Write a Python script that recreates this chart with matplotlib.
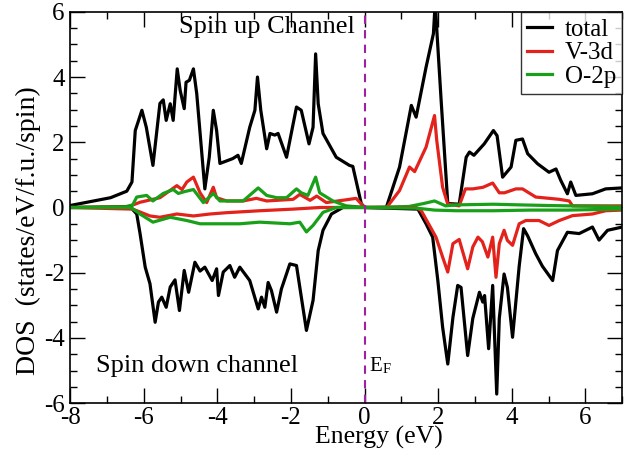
import matplotlib
matplotlib.use("Agg")
import matplotlib.pyplot as plt
from matplotlib.ticker import MultipleLocator

plt.rcParams['font.family'] = ['Liberation Serif', 'DejaVu Serif']
plt.rcParams['axes.unicode_minus'] = False
plt.rcParams['mathtext.fontset'] = 'stix'

# spin up, total
tot_up_x = [-8.0, -6.9, -6.46, -6.32, -6.23, -6.05, -5.93, -5.75, -5.56, -5.47, -5.39, -5.28, -5.2,
            -5.09, -5.01, -4.9, -4.85, -4.76, -4.65, -4.56, -4.34, -4.22, -4.11, -4.02, -3.93,
            -3.58, -3.44, -3.35, -3.12, -2.98, -2.91, -2.82, -2.66, -2.57, -2.44, -2.35, -2.12,
            -1.85, -1.72, -1.51, -1.4, -1.33, -1.26, -1.13, -0.77, -0.41, -0.32, -0.09, 0.0,
            0.59, 0.95, 1.27, 1.4, 1.67, 1.87, 1.92, 1.97, 2.08, 2.26, 2.57, 2.76, 2.85, 2.97,
            3.25, 3.5, 3.6, 3.75, 3.98, 4.11, 4.29, 4.43, 4.7, 5.01, 5.2, 5.33, 5.51, 5.6, 5.74,
            6.19, 6.55, 7.0]
tot_up_y = [0.06, 0.3, 0.5, 0.78, 2.36, 2.98, 2.46, 1.29, 3.19, 3.3, 2.67, 3.18, 2.67,
            4.25, 3.59, 3.03, 3.84, 3.9, 4.25, 3.49, 0.57, 1.54, 2.98, 2.36, 1.35,
            1.5, 1.6, 1.35, 2.46, 2.98, 4.0, 2.98, 1.8, 2.27, 2.22, 2.27, 1.54,
            3.08, 2.98, 1.95, 2.46, 4.71, 3.18, 2.27, 1.54, 1.29, 1.26, 0.12, 0.0,
            0.0, 1.24, 3.13, 2.77, 4.3, 5.33, 6.3, 5.3, 3.28, 0.12, 0.1, 1.54, 1.7, 1.6,
            1.95, 2.36, 2.2, 0.93, 1.24, 2.06, 2.1, 1.65, 1.34, 1.08, 1.18, 0.83, 0.42, 0.78, 0.37,
            0.42, 0.57, 0.6]

# spin up, V-3d
v_up_x = [-8.0, -6.4, -6.1, -5.56, -5.1, -4.96, -4.83, -4.65, -4.47, -4.29, -4.11, -4.02, -3.75,
          -3.3, -2.94, -2.66, -1.94, -1.76, -1.48, -1.3, -1.04, -0.41, -0.23, 0.0,
          0.6, 0.95, 1.22, 1.36, 1.67, 1.9, 1.96, 2.12, 2.26, 2.57, 2.74, 2.94, 3.22, 3.48,
          3.66, 3.8, 4.11, 4.29, 4.65, 5.29, 5.56, 5.65, 7.0]
v_up_y = [0.0, 0.03, 0.16, 0.3, 0.67, 0.55, 0.78, 0.93, 0.45, 0.15, 0.62, 0.3, 0.2,
          0.2, 0.28, 0.2, 0.25, 0.4, 0.22, 0.35, 0.15, 0.25, 0.28, 0.0,
          0.0, 0.52, 1.24, 1.1, 1.85, 2.82, 2.06, 0.62, 0.1, 0.05, 0.57, 0.57, 0.62, 0.75,
          0.45, 0.45, 0.57, 0.57, 0.32, 0.25, 0.2, 0.05, 0.05]

# spin up, O-2p
o_up_x = [-8.0, -6.5, -6.3, -6.19, -5.92, -5.75, -5.47, -5.2, -5.06, -4.88, -4.65, -4.38, -4.11,
          -3.93, -3.3, -2.89, -2.66, -2.39, -2.12, -1.85, -1.72, -1.54, -1.33, -1.22, -0.86,
          -0.5, 0.0, 1.2, 1.6, 1.9, 2.2, 2.5, 3.5, 4.2, 5.0, 7.0]
o_up_y = [0.0, 0.02, 0.08, 0.32, 0.37, 0.2, 0.43, 0.55, 0.43, 0.49, 0.55, 0.15, 0.43,
          0.2, 0.2, 0.6, 0.37, 0.3, 0.3, 0.57, 0.45, 0.37, 0.93, 0.45, 0.2,
          0.05, 0.0, 0.03, 0.12, 0.2, 0.05, 0.08, 0.1, 0.08, 0.06, 0.02]

# spin down, total
tot_dn_x = [-8.0, -6.35, -6.19, -6.1, -5.96, -5.83, -5.69, -5.6, -5.51, -5.39, -5.28, -5.15, -5.03,
            -4.9, -4.78, -4.61, -4.47, -4.34, -4.14, -4.02, -3.97, -3.84, -3.66, -3.53, -3.39,
            -3.12, -2.89, -2.8, -2.71, -2.62, -2.53, -2.39, -2.26, -2.03, -1.85, -1.58, -1.4,
            -1.26, -1.13, -0.9, -0.59, 0.0, 1.45, 1.67, 1.85, 1.99, 2.12, 2.26, 2.4, 2.53, 2.62,
            2.8, 2.94, 3.12, 3.21, 3.26, 3.37, 3.48, 3.59, 3.66, 3.79, 3.88, 4.02, 4.2, 4.32,
            4.43, 4.65, 4.83, 5.11, 5.24, 5.51, 5.83, 6.19, 6.37, 6.6, 7.0]
tot_dn_y = [0.0, 0.0, -0.2, -0.8, -1.83, -2.34, -3.52, -2.9, -2.75, -3.06, -2.44, -2.22, -3.16,
            -1.93, -2.6, -1.68, -1.95, -1.83, -2.24, -1.88, -2.7, -1.98, -1.78, -2.14, -1.83,
            -2.24, -3.11, -2.75, -3.06, -2.3, -2.55, -3.21, -2.5, -1.73, -1.78, -3.77, -2.85,
            -1.32, -0.7, -0.2, 0.0, 0.0, -0.05, -0.5, -0.91, -2.24, -3.67, -4.8, -3.37, -2.39, -2.45,
            -4.54, -3.4, -2.6, -2.9, -2.7, -4.33, -2.39, -5.72, -3.4, -2.04, -2.45, -3.98, -1.8, -0.65,
            -0.87, -1.42, -1.8, -2.24, -1.32, -0.76, -0.8, -0.6, -1.0, -0.7, -0.6]

# spin down, V-3d
v_dn_x = [-8.0, -6.3, -5.83, -5.56, -5.1, -4.65, -4.2, -3.75, -2.85, -1.94, -1.2, 0.0,
          1.4, 1.54, 1.94, 2.12, 2.26, 2.4, 2.57, 2.8, 2.94, 3.08, 3.2, 3.35, 3.48, 3.57, 3.66,
          3.79, 3.88, 4.02, 4.2, 4.38, 4.74, 5.01, 5.29, 5.65, 6.19, 6.55, 7.0]
v_dn_y = [0.0, -0.05, -0.26, -0.3, -0.2, -0.26, -0.2, -0.16, -0.1, -0.05, 0.0, 0.0,
          0.0, -0.1, -0.91, -1.52, -1.98, -1.11, -0.98, -1.88, -1.21, -0.91, -1.05, -1.52, -0.91, -2.14, -1.11,
          -0.7, -1.01, -1.16, -0.5, -0.4, -0.4, -0.55, -0.4, -0.25, -0.2, -0.1, -0.08]

# spin down, O-2p
o_dn_x = [-8.0, -6.35, -6.1, -5.75, -5.28, -4.83, -4.47, -3.93, -3.39, -2.85, -2.03, -1.76, -1.58,
          -1.4, -1.13, -0.77, 0.0, 1.4, 1.9, 2.5, 3.5, 4.5, 5.5, 7.0]
o_dn_y = [0.0, 0.0, -0.2, -0.45, -0.3, -0.4, -0.5, -0.5, -0.5, -0.45, -0.5, -0.45, -0.75,
          -0.55, -0.15, 0.0, 0.0, -0.02, -0.08, -0.1, -0.1, -0.08, -0.08, -0.05]

RED = '#e3221c'
GREEN = '#18a018'

fig = plt.figure(figsize=(6.26, 4.54), dpi=100)
ax = fig.add_axes([0.112, 0.112, 0.882, 0.862])

ax.plot(tot_up_x, tot_up_y, color='black', lw=2.3, label='total')
ax.plot(v_up_x, v_up_y, color=RED, lw=2.3, label='V-3d')
ax.plot(o_up_x, o_up_y, color=GREEN, lw=2.3, label='O-2p')
ax.plot(tot_dn_x, tot_dn_y, color='black', lw=2.3)
ax.plot(v_dn_x, v_dn_y, color=RED, lw=2.3)
ax.plot(o_dn_x, o_dn_y, color=GREEN, lw=2.3)

ax.axvline(0, color='#a020a0', ls=(0, (4, 3)), lw=1.5)

ax.set_xlim(-8, 7)
ax.set_ylim(-6, 6)
ax.xaxis.set_major_locator(MultipleLocator(2))
ax.xaxis.set_minor_locator(MultipleLocator(1))
ax.yaxis.set_major_locator(MultipleLocator(2))
ax.yaxis.set_minor_locator(MultipleLocator(0.5))
ax.tick_params(which='both', direction='in', top=True, right=True, labelsize=18)
ax.tick_params(which='major', length=11, width=1)
ax.tick_params(which='minor', length=5, width=1)
ax.tick_params(axis='x', which='major', pad=3)
ax.tick_params(axis='y', which='major', pad=4)
for s in ax.spines.values():
    s.set_linewidth(1.2)

ax.set_xlabel('Energy (eV)', fontsize=18.5, va='top')
ax.xaxis.set_label_coords(0.56, -0.057)
ax.set_ylabel('DOS  (states/eV/f.u./spin)', fontsize=20)
ax.yaxis.set_label_coords(-0.052, 0.44)

ax.text(-5.05, 5.54, 'Spin up Channel', fontsize=19, va='center')
ax.text(-7.3, -4.85, 'Spin down channel', fontsize=19, va='center')
ax.text(0.12, -4.85, r'E$_\mathregular{F}$', fontsize=15, va='center')

leg = ax.legend(loc='upper right', fontsize=18, frameon=True, fancybox=False,
                edgecolor='black', borderaxespad=0, handlelength=1.0,
                labelspacing=0.05, borderpad=0.25, handletextpad=0.5)
leg.get_frame().set_linewidth(1.0)

fig.savefig('out.png', dpi=100)
